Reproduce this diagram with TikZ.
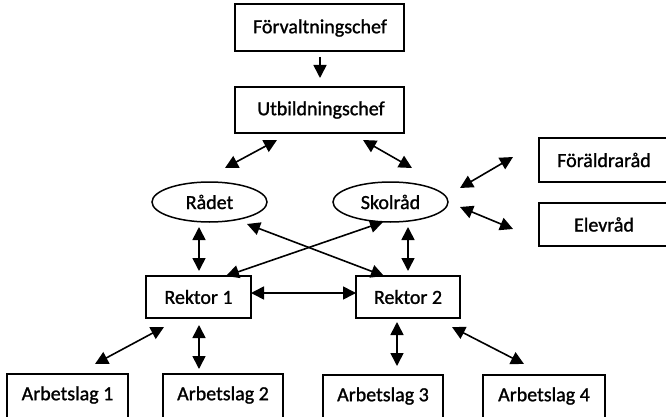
\documentclass[tikz,border=0pt]{standalone}
\usepackage{fontspec}
\setmainfont{Carlito}[FakeBold=1.2]
\usetikzlibrary{arrows.meta,shapes.geometric}
\tikzset{
  box/.style={draw, line width=1.5pt, rectangle, inner sep=0pt},
  oval/.style={draw, line width=1.5pt, ellipse, inner sep=0pt, minimum width=115pt, minimum height=40pt},
  lbl/.style={inner sep=0pt, font=\fontsize{20pt}{23pt}\selectfont},
  tip/.tip={Triangle[length=13pt,width=13pt]},
  biarrow/.style={line width=1.6pt, {tip}-{tip}},
  onearrow/.style={line width=1.6pt, -{tip}}
}
\begin{document}
\begin{tikzpicture}[x=1pt,y=-1pt]
\useasboundingbox (0,0) rectangle (666,417);
\clip (0,0) rectangle (666,417);
% boxes
\node[box, minimum width=169pt, minimum height=47pt] (forv) at (319.5,27.5) {};
\node[lbl] (forvt) at (320,28) {Förvaltningschef};
\node[box, minimum width=169pt, minimum height=46pt] (utb) at (319.5,110) {};
\node[lbl] (utbt) at (321,110) {Utbildningschef};
\node[oval] (radet) at (209.5,202) {};
\node[lbl] (radett) at (209.5,202) {Rådet};
\node[oval] (skol) at (390.5,202) {};
\node[lbl] (skolt) at (390.5,202) {Skolråd};
\node[box, minimum width=130pt, minimum height=44pt] (foral) at (604,160) {};
\node[lbl] (foralt) at (604,160) {Föräldraråd};
\node[box, minimum width=130pt, minimum height=43pt] (elev) at (604,224.5) {};
\node[lbl] (elevt) at (604,224.5) {Elevråd};
\node[box, minimum width=105pt, minimum height=42pt] (r1) at (198.5,297) {};
\node[lbl] (r1t) at (198.5,297) {Rektor 1};
\node[box, minimum width=104pt, minimum height=42pt] (r2) at (408,297) {};
\node[lbl] (r2t) at (408,297) {Rektor 2};
\node[box, minimum width=121pt, minimum height=56pt] (a1) at (67.5,402) {};
\node[lbl] (a1t) at (67.5,395) {Arbetslag 1};
\node[box, minimum width=120pt, minimum height=56pt] (a2) at (223,402) {};
\node[lbl] (a2t) at (223,395) {Arbetslag 2};
\node[box, minimum width=120pt, minimum height=56pt] (a3) at (383,403) {};
\node[lbl] (a3t) at (383,396) {Arbetslag 3};
\node[box, minimum width=122pt, minimum height=56pt] (a4) at (544,403) {};
\node[lbl] (a4t) at (544,396) {Arbetslag 4};
% arrow end points
\coordinate (fu1) at (320,57);   \coordinate (fu2) at (320,78);
\coordinate (ul1) at (277,140);  \coordinate (ul2) at (225,168);
\coordinate (ur1) at (363,140);  \coordinate (ur2) at (412,168);
\coordinate (sf1) at (460,188);  \coordinate (sf2) at (513,157);
\coordinate (se1) at (460,207);  \coordinate (se2) at (513,229);
\coordinate (rv1) at (199,227);  \coordinate (rv2) at (199,271);
\coordinate (sv1) at (408,227);  \coordinate (sv2) at (408,271);
\coordinate (c11) at (247,224);  \coordinate (c12) at (384,276);
\coordinate (c21) at (383,222);  \coordinate (c22) at (226,276);
\coordinate (h1) at (251,293);   \coordinate (h2) at (356,293);
\coordinate (b11) at (164,327);  \coordinate (b12) at (95,364);
\coordinate (b21) at (199,325);  \coordinate (b22) at (199,369);
\coordinate (b31) at (397,322);  \coordinate (b32) at (397,366);
\coordinate (b41) at (452,327);  \coordinate (b42) at (524,364);
% arrows
\draw[onearrow] (fu1) -- (fu2);
\draw[biarrow] (ul1) -- (ul2);
\draw[biarrow] (ur1) -- (ur2);
\draw[biarrow] (sf1) -- (sf2);
\draw[biarrow] (se1) -- (se2);
\draw[biarrow] (rv1) -- (rv2);
\draw[biarrow] (sv1) -- (sv2);
\draw[biarrow] (c11) -- (c12);
\draw[biarrow] (c21) -- (c22);
\draw[biarrow] (h1) -- (h2);
\draw[biarrow] (b11) -- (b12);
\draw[biarrow] (b21) -- (b22);
\draw[biarrow] (b31) -- (b32);
\draw[biarrow] (b41) -- (b42);
\end{tikzpicture}
\end{document}
